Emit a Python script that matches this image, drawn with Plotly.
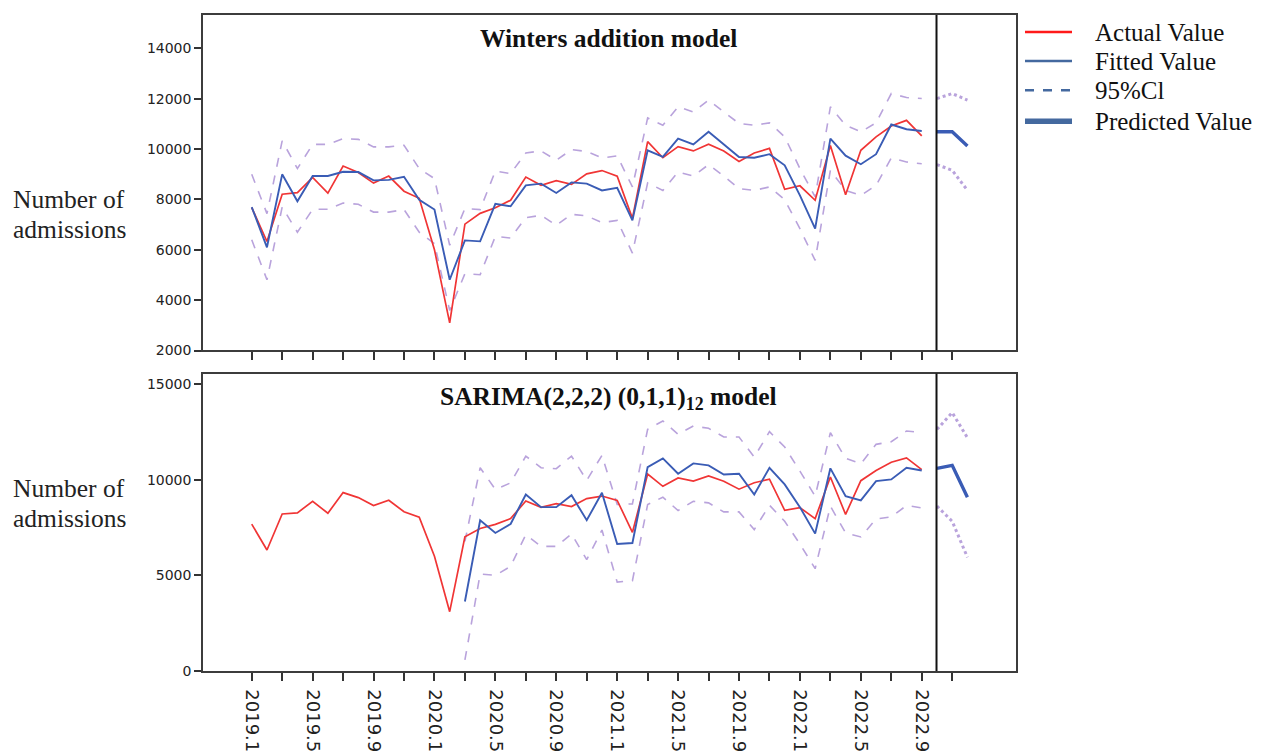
import plotly.graph_objects as go

# ---------------- data ----------------
month_labels = ["2019.1", "2019.5", "2019.9", "2020.1", "2020.5", "2020.9",
                "2021.1", "2021.5", "2021.9", "2022.1", "2022.5", "2022.9"]
n_months = 45  # 2019.1 .. 2022.9
months = list(range(n_months))
forecast_months = [45, 46, 47]

actual = [7680, 6330, 8210, 8270, 8880, 8250, 9330, 9070, 8650, 8930, 8330, 8050,
          6000, 3100, 7020, 7450, 7670, 7970, 8890, 8565, 8750, 8600, 9020, 9150,
          8925, 7250, 10300, 9660, 10100, 9930, 10200, 9925, 9510, 9845, 10030, 8405,
          8545, 7970, 10145, 8190, 9955, 10490, 10920, 11145, 10530]

# Winters additive model
w_fitted = [7700, 6100, 9000, 7930, 8935, 8935, 9100, 9090, 8760, 8780, 8900, 7990,
            7600, 4810, 6376, 6336, 7830, 7730, 8560, 8630, 8260, 8680, 8630, 8360,
            8460, 7170, 9955, 9690, 10420, 10190, 10690, 10190, 9690, 9660, 9800, 9360,
            8165, 6840, 10420, 9740, 9400, 9800, 10980, 10790, 10720]
w_upper = [9000, 7440, 10330, 9230, 10190, 10190, 10420, 10390, 10090, 10090, 10155, 9230,
           8830, 6180, 7640, 7600, 9130, 9030, 9850, 9930, 9560, 9980, 9910, 9650,
           9730, 8500, 11240, 10950, 11680, 11480, 11950, 11480, 11020, 10950, 11045, 10490,
           9230, 8100, 11680, 10950, 10690, 11045, 12210, 12050, 12010]
w_lower = [6400, 4810, 7700, 6700, 7610, 7610, 7860, 7810, 7500, 7500, 7600, 6700,
           6245, 3590, 5050, 5010, 6535, 6470, 7280, 7370, 6975, 7410, 7350, 7080,
           7170, 5870, 8660, 8360, 9090, 8930, 9385, 8930, 8430, 8360, 8500, 7990,
           6840, 5580, 9160, 8360, 8165, 8560, 9650, 9490, 9420]
w_pred = [10690, 10690, 10125]
w_pred_upper = [12010, 12210, 11950]
w_pred_lower = [9385, 9160, 8365]

# SARIMA(2,2,2)(0,1,1)12 model (fitted from 2020.3)
s_start = 14
s_fitted = [3635, 7885, 7220, 7690, 9230, 8570, 8570, 9195, 7885, 9320, 6640, 6695,
            10665, 11120, 10315, 10860, 10755, 10280, 10315, 9230, 10630, 9760, 8570, 7185,
            10600, 9145, 8920, 9930, 10020, 10630, 10490]
s_upper = [6780, 10630, 9495, 9840, 11240, 10630, 10580, 11240, 9970, 11280, 8710, 8740,
           12640, 13080, 12380, 12815, 12695, 12240, 12240, 11190, 12520, 11715, 10455, 9145,
           12465, 11120, 10840, 11855, 11990, 12555, 12465]
s_lower = [575, 5070, 5000, 5470, 7135, 6520, 6520, 7170, 5820, 7370, 4650, 4720,
           8710, 9090, 8395, 8880, 8795, 8320, 8320, 7395, 8670, 7830, 6640, 5350,
           8620, 7220, 7010, 7955, 8060, 8655, 8530]
s_pred = [10600, 10755, 9090]
s_pred_upper = [12640, 13515, 12200]
s_pred_lower = [8620, 7830, 5945]

top_ticks = [2000, 4000, 6000, 8000, 10000, 12000, 14000]
bot_ticks = [0, 5000, 10000, 15000]

legend_names = ["Actual Value", "Fitted Value", "95%Cl", "Predicted Value"]

# ---------------- styles ----------------
RED = "#f03535"
BLUE = "#3a5cb5"
CI = "#b9a3dc"
LEG_BLUE = "#44699f"
SERIF = "Liberation Serif, Times New Roman, serif"
SANS = "DejaVu Sans, sans-serif"
FRAME = "#3c3c3c"

W = 1263
H = 755
YC = 1 / 0.988  # vertical placement correction

fig = go.Figure()
s_months = months[s_start:]


def add_panel(xa, ya, fitted, fx, upper, lower, pred, pu, pl):
    common = dict(xaxis=xa, yaxis=ya, mode="lines", showlegend=False, hoverinfo="skip")
    fig.add_trace(go.Scatter(x=fx, y=upper, line=dict(color=CI, width=1.6, dash="dash"), **common))
    fig.add_trace(go.Scatter(x=fx, y=lower, line=dict(color=CI, width=1.6, dash="dash"), **common))
    fig.add_trace(go.Scatter(x=months, y=actual, line=dict(color=RED, width=1.7), **common))
    fig.add_trace(go.Scatter(x=fx, y=fitted, line=dict(color=BLUE, width=1.9), **common))
    fig.add_trace(go.Scatter(x=forecast_months, y=pu, line=dict(color=CI, width=3, dash="dot"), **common))
    fig.add_trace(go.Scatter(x=forecast_months, y=pl, line=dict(color=CI, width=3, dash="dot"), **common))
    fig.add_trace(go.Scatter(x=forecast_months, y=pred, line=dict(color=BLUE, width=3.4), **common))


add_panel("x", "y", w_fitted, months, w_upper, w_lower, w_pred, w_pred_upper, w_pred_lower)
add_panel("x2", "y2", s_fitted, s_months, s_upper, s_lower, s_pred, s_pred_upper, s_pred_lower)


def py(pix):
    return 1 - pix * YC / H


def px(pix):
    return pix / W


x_dom = [px(203), px(1016)]
top_dom = [py(350), py(15)]
bot_dom = [py(670), py(373)]
x_range = [-3.2, 50.19]

major_vals = list(range(0, 45, 4))
minor_vals = list(range(2, 47, 4))

xcommon = dict(range=x_range, domain=x_dom, showgrid=False, zeroline=False,
               showline=True, linecolor=FRAME, linewidth=1.5, mirror=True,
               ticks="outside", ticklen=8, tickwidth=2, tickcolor="#333",
               tickvals=major_vals, ticktext=month_labels,
               minor=dict(tickmode="array", tickvals=minor_vals, ticks="outside",
                          ticklen=8, tickwidth=2, tickcolor="#333", showgrid=False))
ycommon = dict(showgrid=False, zeroline=False, showline=True, linecolor=FRAME,
               linewidth=1.5, mirror=True, ticks="outside", ticklen=7, tickwidth=1.5,
               tickcolor="#333", tickfont=dict(family=SANS, size=14, color="#222"))

# manual legend (shapes + texts)
leg_styles = [("#ff1a1a", 2.5, "solid"), (LEG_BLUE, 2.5, "solid"),
              (LEG_BLUE, 2.5, "dash"), (LEG_BLUE, 5.5, "solid")]
leg_y = [32, 61, 90, 121]
shapes = [
    dict(type="line", xref="x", yref="y domain", x0=44.97, x1=44.97, y0=0, y1=1,
         line=dict(color="#111", width=2)),
    dict(type="line", xref="x2", yref="y2 domain", x0=44.97, x1=44.97, y0=0, y1=1,
         line=dict(color="#111", width=2)),
]


def text_ann(text, x, y, size=25.5, anchor="left", color="#111"):
    return dict(text=text, xref="paper", yref="paper", x=px(x), y=py(y),
                xanchor=anchor, yanchor="middle", showarrow=False,
                font=dict(family=SERIF, size=size, color=color))


annotations = [
    text_ann("<b>Winters addition model</b>", 608, 38, anchor="center"),
    text_ann("<b>SARIMA(2,2,2) (0,1,1)<sub>12</sub> model</b>", 608, 397, anchor="center"),
    text_ann("Number of", 11, 199, color="#222"),
    text_ann("admissions", 11, 229, color="#222"),
    text_ann("Number of", 11, 488, color="#222"),
    text_ann("admissions", 11, 518, color="#222"),
]
for name, (col, wd, dsh), yy in zip(legend_names, leg_styles, leg_y):
    shapes.append(dict(type="line", xref="paper", yref="paper",
                       x0=px(1025), x1=px(1072), y0=py(yy), y1=py(yy),
                       line=dict(color=col, width=wd, dash=dsh)))
    annotations.append(text_ann(name, 1093, yy, size=25))

fig.update_layout(
    width=W, height=H,
    margin=dict(l=0, r=0, t=0, b=0),
    paper_bgcolor="white", plot_bgcolor="white",
    showlegend=False,
    xaxis=dict(anchor="y", showticklabels=False, **xcommon),
    xaxis2=dict(anchor="y2", showticklabels=True, tickangle=90, ticklabelstandoff=5,
                tickfont=dict(family=SANS, size=18, color="#222"), **xcommon),
    yaxis=dict(domain=top_dom, anchor="x", range=[2000, 15330],
               tickvals=top_ticks, ticktext=[str(v) for v in top_ticks], **ycommon),
    yaxis2=dict(domain=bot_dom, anchor="x2", range=[0, 15560],
                tickvals=bot_ticks, ticktext=[str(v) for v in bot_ticks], **ycommon),
    shapes=shapes,
    annotations=annotations,
)

fig.write_html("out.html")
